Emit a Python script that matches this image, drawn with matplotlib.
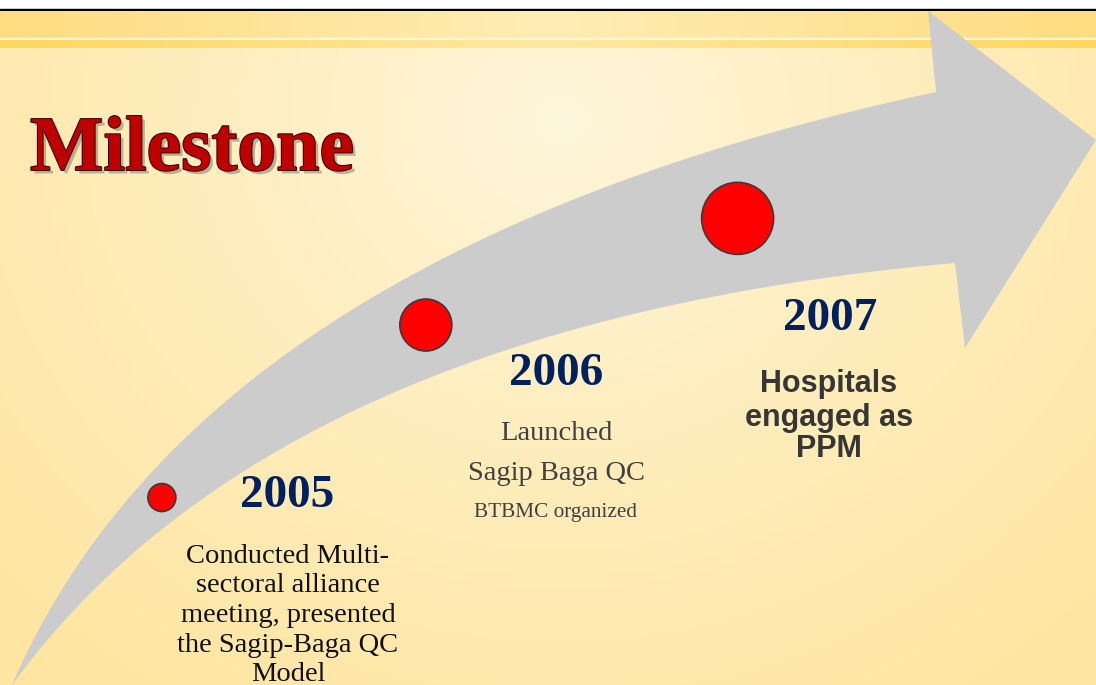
import numpy as np
import matplotlib.pyplot as plt
import matplotlib.patheffects as pe
from matplotlib.patches import Polygon, Circle, Rectangle

# milestones
years = ["2005", "2006", "2007"]
arrow_pos = [0.26, 0.57, 0.845]      # where each dot sits along the arrow
dot_radius = [14, 26, 36]
year_xy = [(287, 507), (556, 385), (830, 330)]

desc_2005 = ["Conducted Multi-", "sectoral alliance", "meeting, presented",
             "the Sagip-Baga QC", "Model"]
desc_2006 = ["Launched", "Sagip Baga QC", "BTBMC organized"]
desc_2007 = ["Hospitals", "engaged as", "PPM"]

W, H = 1096, 685

fig = plt.figure(figsize=(W / 100, H / 100), dpi=100)
ax = fig.add_axes([0, 0, 1, 1])
ax.set_xlim(0, W)
ax.set_ylim(H, 0)
ax.axis("off")

# background: soft radial gradient, cream in the middle, yellow at the edges
yy, xx = np.mgrid[0:H, 0:W]
d = np.sqrt((xx - 560) ** 2 + ((yy - 120) / 0.9) ** 2) / 800
d = np.clip(d, 0, 1)[..., None] ** 0.8
inner = np.array([255, 247, 222]) / 255
outer = np.array([254, 229, 160]) / 255
ax.imshow(inner * (1 - d) + outer * d, extent=[0, W, H, 0], zorder=0, aspect="auto")

# header band
ax.add_patch(Rectangle((0, 0), W, 8.5, color="white", zorder=1))
ax.add_patch(Rectangle((0, 8.5), W, 2.5, color="black", zorder=1))
xs = np.linspace(0, 1, 256)
band = 1 - np.abs(xs - 0.5) * 2
c1 = np.array([254, 220, 128]) / 255
c2 = np.array([254, 237, 180]) / 255
ax.imshow((c1 * (1 - band[:, None]) + c2 * band[:, None])[None], extent=[0, W, 38, 11],
          zorder=1, aspect="auto")
ax.add_patch(Rectangle((0, 38), W, 2, color="#FFF6E0", zorder=1))
c3 = np.array([255, 214, 92]) / 255
c4 = np.array([255, 232, 160]) / 255
ax.imshow((c3 * (1 - band[:, None]) + c4 * band[:, None])[None], extent=[0, W, 47.5, 40],
          zorder=1, aspect="auto")


def bezier(p0, p1, p2, t):
    t = np.asarray(t)[..., None]
    return (1 - t) ** 2 * np.array(p0) + 2 * t * (1 - t) * np.array(p1) + t ** 2 * np.array(p2)


up = ((12, 685), (200, 250), (936, 92))
lo = ((12, 685), (275, 324), (955, 263))
t = np.linspace(0, 1, 200)
upper = bezier(*up, t)
lower = bezier(*lo, t)
head = np.array([(928, 11), (1096, 140), (965, 348)])
outline = np.vstack([upper, head, lower[::-1]])
ax.add_patch(Polygon(outline, closed=True, facecolor="#CCCCCC", edgecolor="none", zorder=2))

# dots on the arrow
for p, r in zip(arrow_pos, dot_radius):
    c = (bezier(*up, p) + bezier(*lo, p)) / 2
    ax.add_patch(Circle(c, r, facecolor="#FF0000", edgecolor="#3A3A3A", lw=1.2, zorder=3))

# title
ax.text(30, 170, "Milestone", fontsize=56, fontweight="bold", family="Liberation Serif",
        color="#C00000", va="baseline", zorder=5,
        path_effects=[pe.SimplePatchShadow(offset=(2.5, -2.5), shadow_rgbFace="#555555", alpha=0.4),
                      pe.Stroke(linewidth=1.4, foreground="#2A0000"), pe.Normal()])

for yr, (x, y) in zip(years, year_xy):
    ax.text(x, y, yr, fontsize=34, fontweight="bold", family="Liberation Serif",
            color="#002060", ha="center", va="baseline", zorder=5)

for i, line in enumerate(desc_2005):
    ax.text(288, 563 + 29.5 * i, line, fontsize=20.5, family="Liberation Serif",
            color="#111111", ha="center", va="baseline", zorder=5)

for line, y, fs in zip(desc_2006, [440, 480, 517], [20.5, 20.5, 15.3]):
    ax.text(556, y, line, fontsize=fs, family="Liberation Serif",
            color="#404040", ha="center", va="baseline", zorder=5)

for line, y in zip(desc_2007, [392, 426, 457]):
    ax.text(829, y, line, fontsize=22, fontweight="bold", family="Liberation Sans",
            color="#363636", ha="center", va="baseline", zorder=5)

fig.savefig("out.png", dpi=100)
